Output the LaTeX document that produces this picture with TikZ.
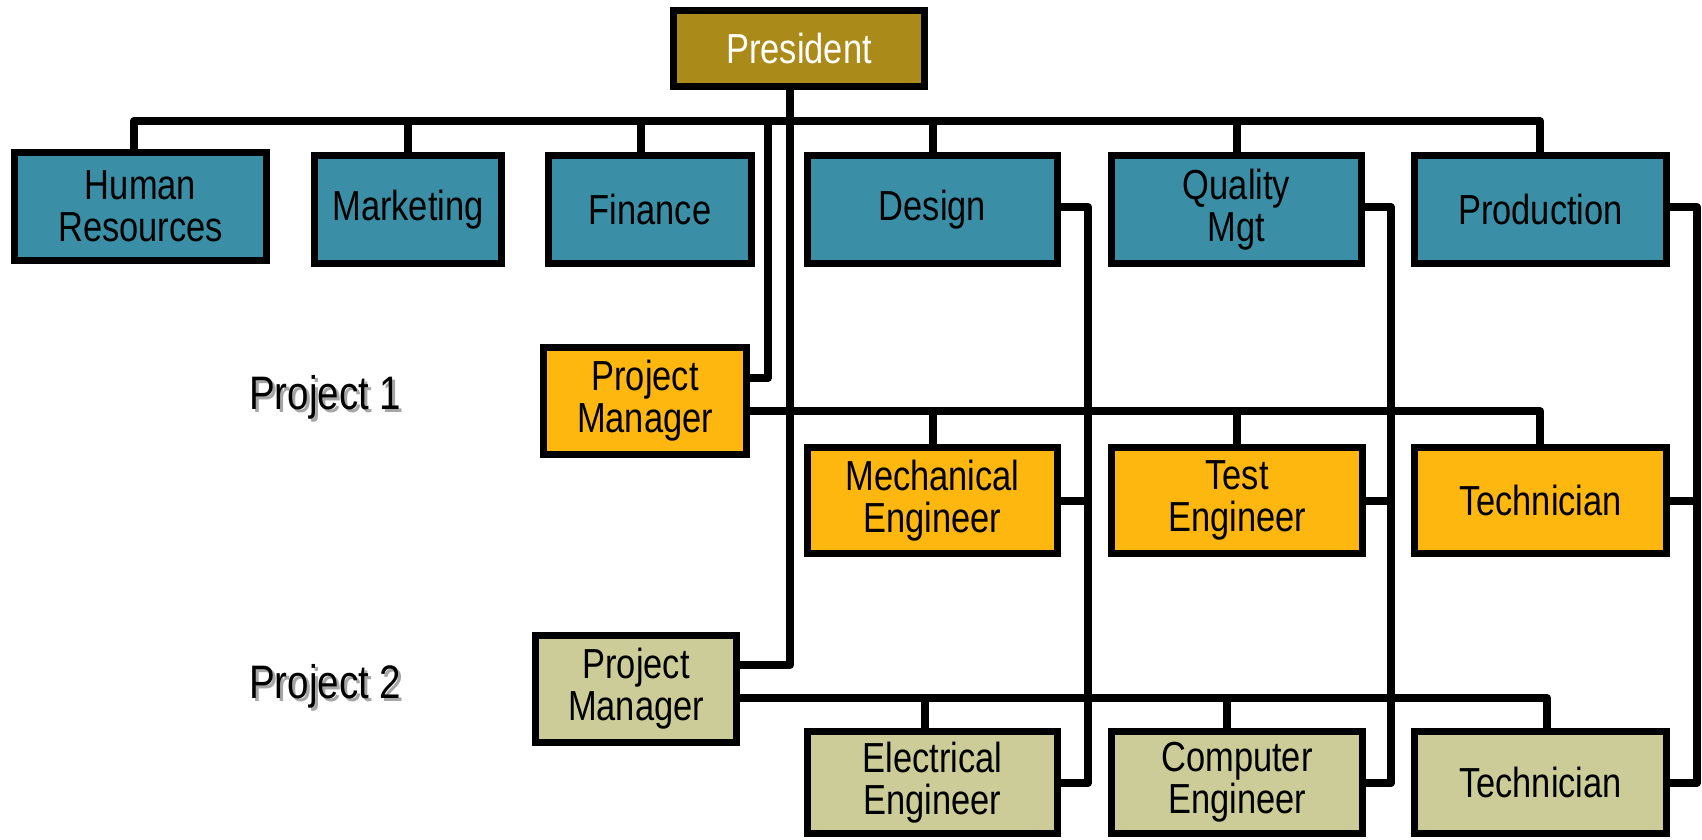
\documentclass[tikz,border=0pt]{standalone}
\usepackage{fontspec}
\setmainfont[FakeStretch=0.82]{Liberation Sans}
\pgfdeclarelayer{bg}
\pgfdeclarelayer{paper}
\pgfsetlayers{paper,bg,main}
\definecolor{presgold}{RGB}{170,138,24}
\definecolor{deptteal}{RGB}{58,143,166}
\definecolor{projorange}{RGB}{253,183,15}
\definecolor{projkhaki}{RGB}{204,204,153}
\begin{document}
\begin{tikzpicture}[x=1pt,y=-1pt,
  box/.style={draw=black, line width=7pt, inner sep=0pt, align=center,
    font=\fontsize{42}{42}\selectfont},
  dept/.style={box, fill=deptteal, minimum height=108pt},
  orng/.style={box, fill=projorange},
  khak/.style={box, fill=projkhaki},
  conn/.style={draw=black, line width=8pt, line join=round},
  projlabel/.style={anchor=base west, inner sep=0pt, font=\fontsize{47}{47}\selectfont}
]
\useasboundingbox (0,0) rectangle (1702,839);
\begin{pgfonlayer}{paper}
\fill[white] (0,0) rectangle (1702,839);
\end{pgfonlayer}

% boxes
\node[box, fill=presgold, text=white, minimum width=251pt, minimum height=76pt] (pres) at (799,48.5) {President};

\node[dept, minimum width=252pt, minimum height=108pt] (hr) at (140.5,206.5) {Human\\Resources};
\node[dept, minimum width=187pt] (mkt) at (408,209.5) {Marketing};
\node[dept, minimum width=203pt] (fin) at (650,209.5) {Finance};
\node[dept, minimum width=250pt] (des) at (932.5,209.5) {Design};
\node[dept, minimum width=250pt] (qual) at (1236.5,209.5) {Quality\\Mgt};
\node[dept, minimum width=252pt] (prod) at (1540.5,209.5) {Production};

\node[orng, minimum width=203pt, minimum height=107pt] (pm1) at (645,401) {Project\\Manager};
\node[orng, minimum width=250pt, minimum height=106pt] (mech) at (932.5,500.5) {Mechanical\\Engineer};
\node[orng, minimum width=251pt, minimum height=106pt] (test) at (1237,500.5) {Test\\Engineer};
\node[orng, minimum width=252pt, minimum height=106pt] (tech1) at (1540.5,500.5) {Technician};

\node[khak, minimum width=201pt, minimum height=107pt] (pm2) at (636,689) {Project\\Manager};
\node[khak, minimum width=250pt, minimum height=102pt] (elec) at (932.5,782.5) {Electrical\\Engineer};
\node[khak, minimum width=251pt, minimum height=102pt] (comp) at (1237,782.5) {Computer\\Engineer};
\node[khak, minimum width=252pt, minimum height=102pt] (tech2) at (1540.5,782.5) {Technician};

% project labels with shadow
\node[projlabel, text=black!35] (p1s) at (252,412) {Project 1};
\node[projlabel] (p1) at (249,409) {Project 1};
\node[projlabel, text=black!35] (p2s) at (252,701) {Project 2};
\node[projlabel] (p2) at (249,698) {Project 2};

% junction coordinates
\coordinate (busL) at (134,121);
\coordinate (busR) at (1540,121);
\coordinate (finS) at (641,121);
\coordinate (mainBot) at (790,665);
\coordinate (p1a) at (768,121);
\coordinate (p1b) at (768,378);
\coordinate (b1R) at (1540,411);
\coordinate (b2R) at (1547,698);
\coordinate (elS) at (925,698);
\coordinate (coS) at (1227,698);
\coordinate (dT) at (1088,207);
\coordinate (dB) at (1088,783);
\coordinate (qT) at (1391,207);
\coordinate (qB) at (1391,783);
\coordinate (rT) at (1697,207);
\coordinate (rB) at (1697,783);

\begin{pgfonlayer}{bg}
% top bus
\draw[conn] (hr.north -| busL) -- (busL) -- (busR) -- (prod.north -| busR);
\draw[conn] (mkt.north) -- (mkt.north |- busL);
\draw[conn] (finS) -- (finS |- fin.north);
\draw[conn] (des.north) -- (des.north |- busL);
\draw[conn] (qual.north) -- (qual.north |- busL);
% president main line to project 2 manager
\draw[conn] (pres.south -| mainBot) -- (mainBot) -- (mainBot -| pm2.east);
% project 1 manager line
\draw[conn] (p1a) -- (p1b) -- (p1b -| pm1.east);
% project 1 bus
\draw[conn] (b1R -| pm1.east) -- (b1R) -- (b1R |- tech1.north);
\draw[conn] (mech.north) -- (mech.north |- b1R);
\draw[conn] (test.north) -- (test.north |- b1R);
% project 2 bus
\draw[conn] (b2R -| pm2.east) -- (b2R) -- (b2R |- tech2.north);
\draw[conn] (elS) -- (elS |- elec.north);
\draw[conn] (coS) -- (coS |- comp.north);
% functional lines
\draw[conn] (dT -| des.east) -- (dT) -- (dB) -- (dB -| elec.east);
\draw[conn] (mech.east) -- (mech.east -| dT);
\draw[conn] (qT -| qual.east) -- (qT) -- (qB) -- (qB -| comp.east);
\draw[conn] (test.east) -- (test.east -| qT);
\draw[conn] (rT -| prod.east) -- (rT) -- (rB) -- (rB -| tech2.east);
\draw[conn] (tech1.east) -- (tech1.east -| rT);
\end{pgfonlayer}
\end{tikzpicture}
\end{document}
